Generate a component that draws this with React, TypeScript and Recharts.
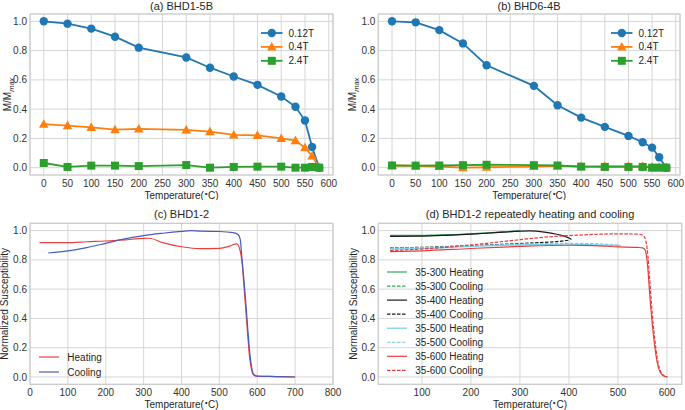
import React from "react";
import { LineChart, Line, XAxis, YAxis, CartesianGrid, ReferenceArea } from "recharts";

const FONT = "'Liberation Sans', Arial, sans-serif";
const GRID = "#d6d6d6";
const SPINE = "#cccccc";
const TEXT = "#262626";
const TICK = { fontSize: 10, fill: "#333333", fontFamily: FONT };

const BLUE = "#1f77b4";
const ORANGE = "#ff7f0e";
const GREEN = "#2ca02c";

// (a), (b) stepwise heating temperatures
const stepTemps = [0, 50, 100, 150, 200, 300, 350, 400, 450, 500, 530, 550, 565, 580];
const stepTicks = [0, 50, 100, 150, 200, 250, 300, 350, 400, 450, 500, 550, 600];
const normTicks = [0, 0.2, 0.4, 0.6, 0.8, 1.0];

const bhd15_012 = [1.0, 0.984, 0.95, 0.895, 0.82, 0.753, 0.683, 0.623, 0.566, 0.486, 0.416, 0.322, 0.141, 0.0];
const bhd15_04 = [0.297, 0.288, 0.276, 0.26, 0.265, 0.258, 0.247, 0.224, 0.221, 0.2, 0.185, 0.137, 0.08, 0.0];
const bhd15_24 = [0.032, 0.005, 0.014, 0.014, 0.011, 0.018, 0.0, 0.005, 0.007, 0.007, 0.0, 0.0, 0.005, 0.0];

const bhd64_012 = [1.0, 0.993, 0.94, 0.849, 0.7, 0.559, 0.427, 0.342, 0.279, 0.217, 0.174, 0.137, 0.071, 0.0];
const bhd64_04 = [0.015, 0.013, 0.008, 0.0, 0.003, 0.008, 0.013, 0.008, 0.01, 0.01, 0.01, 0.005, 0.003, 0.0];
const bhd64_24 = [0.015, 0.014, 0.015, 0.017, 0.02, 0.017, 0.015, 0.007, 0.005, 0.005, 0.005, 0.0, 0.0, 0.0];

// (c) BHD1-2 susceptibility vs temperature
const cTicks = [0, 100, 200, 300, 400, 500, 600, 700, 800];
const heatC_T = [25, 50, 100, 150, 200, 250, 300, 315, 350, 400, 450, 500, 525, 545, 550, 555, 560, 565, 570, 575, 580, 585, 590, 600, 650, 700];
const heatC_V = [0.918, 0.918, 0.918, 0.924, 0.929, 0.937, 0.947, 0.948, 0.918, 0.89, 0.877, 0.879, 0.892, 0.909, 0.9, 0.86, 0.78, 0.62, 0.45, 0.28, 0.13, 0.05, 0.015, 0.005, 0.003, 0.0];
const coolC_T = [48, 100, 150, 200, 250, 300, 350, 400, 425, 450, 500, 536, 550, 555, 560, 565, 570, 575, 580, 585, 590, 595, 600, 650, 700];
const coolC_V = [0.847, 0.861, 0.884, 0.913, 0.943, 0.966, 0.982, 0.995, 1.0, 0.996, 0.994, 0.986, 0.972, 0.94, 0.8, 0.66, 0.5, 0.33, 0.17, 0.07, 0.02, 0.01, 0.006, 0.003, 0.0];

// (d) repeated heating / cooling cycles
const dTicks = [100, 200, 300, 400, 500, 600];
const h300_T = [35, 100, 150, 200, 250, 300];
const h300_V = [0.967, 0.968, 0.972, 0.978, 0.988, 0.998];
const c300_T = [35, 100, 200, 250, 300];
const c300_V = [0.963, 0.966, 0.977, 0.987, 0.997];
const h400_T = [35, 100, 150, 200, 250, 300, 320, 350, 375, 400, 405];
const h400_V = [0.96, 0.962, 0.968, 0.976, 0.986, 0.996, 0.998, 0.99, 0.975, 0.95, 0.94];
const c400_T = [35, 100, 200, 300, 350, 390, 400];
const c400_V = [0.882, 0.886, 0.897, 0.912, 0.92, 0.93, 0.935];
const h500_T = [35, 100, 200, 300, 400, 450, 505];
const h500_V = [0.874, 0.878, 0.892, 0.903, 0.907, 0.903, 0.897];
const c500_T = [35, 100, 200, 300, 400, 450, 505];
const c500_V = [0.88, 0.884, 0.895, 0.908, 0.913, 0.911, 0.9];
const h600_T = [35, 100, 200, 300, 400, 450, 500, 540, 550, 555, 558, 561, 564, 567, 570, 575, 580, 585, 590, 595, 601];
const h600_V = [0.856, 0.862, 0.878, 0.892, 0.9, 0.898, 0.889, 0.885, 0.882, 0.87, 0.83, 0.74, 0.6, 0.47, 0.36, 0.21, 0.1, 0.04, 0.015, 0.005, 0.0];
const c600_T = [35, 100, 200, 300, 350, 400, 450, 500, 540, 550, 555, 558, 561, 564, 567, 570, 575, 580, 585, 590, 595, 601];
const c600_V = [0.864, 0.874, 0.902, 0.938, 0.955, 0.966, 0.974, 0.978, 0.976, 0.97, 0.95, 0.91, 0.83, 0.7, 0.56, 0.43, 0.26, 0.13, 0.055, 0.02, 0.007, 0.0];

const zip = (t: number[], v: number[]) => t.map((x, i) => ({ t: x, v: v[i] }));

const stepRows = (a: number[], b: number[], c: number[]) =>
  stepTemps.map((t, i) => ({ t, s012: a[i], s04: b[i], s24: c[i] }));

const rowsA = stepRows(bhd15_012, bhd15_04, bhd15_24);
const rowsB = stepRows(bhd64_012, bhd64_04, bhd64_24);

type Shape = "circle" | "tri" | "square";

function marker(shape: Shape, cx: number, cy: number, color: string, key?: string) {
  if (shape === "circle") return <circle key={key} cx={cx} cy={cy} r={4.2} fill={color} />;
  if (shape === "tri")
    return <path key={key} d={`M${cx},${cy - 5}L${cx + 4.8},${cy + 3.6}L${cx - 4.8},${cy + 3.6}Z`} fill={color} />;
  return <rect key={key} x={cx - 4} y={cy - 4} width={8} height={8} fill={color} />;
}

const dot = (shape: Shape, color: string) => (p: any) => marker(shape, p.cx, p.cy, color, `${shape}-${p.index}`);

const yLabel = (x: number, main: string, sub?: string) => (props: any) => {
  const vb = props.viewBox || {};
  const y = (vb.y ?? 0) + (vb.height ?? 0) / 2;
  return (
    <text x={x} y={y} transform={`rotate(-90, ${x}, ${y})`} textAnchor="middle" dy="0.35em" fontSize={10} fill={TEXT} fontFamily={FONT}>
      {main}
      {sub && (
        <tspan fontSize={7.5} fontStyle="italic" dy={2.5}>
          {sub}
        </tspan>
      )}
    </text>
  );
};

const xLabel = (x: number, y: number) => () => (
  <text x={x} y={y} textAnchor="middle" dy="0.35em" fontSize={10} fill={TEXT} fontFamily={FONT}>
    Temperature(
    <tspan fontSize={7} dy={-3}>
      ∘
    </tspan>
    <tspan dy={3}>C)</tspan>
  </text>
);

const SERIES_AB: { key: string; label: string; color: string; shape: Shape }[] = [
  { key: "s012", label: "0.12T", color: BLUE, shape: "circle" },
  { key: "s04", label: "0.4T", color: ORANGE, shape: "tri" },
  { key: "s24", label: "2.4T", color: GREEN, shape: "square" },
];

function MarkerLegend({ left, top }: { left: number; top: number }) {
  return (
    <svg style={{ position: "absolute", left, top, overflow: "visible" }} width={70} height={44}>
      {SERIES_AB.map((s, i) => {
        const y = 7 + i * 13.9;
        return (
          <g key={s.key}>
            <line x1={0} x2={21.5} y1={y} y2={y} stroke={s.color} strokeWidth={1.8} />
            {marker(s.shape, 10.8, y, s.color)}
            <text x={27.5} y={y} dy="0.35em" fontSize={10} fill={TEXT} fontFamily={FONT}>
              {s.label}
            </text>
          </g>
        );
      })}
    </svg>
  );
}

type LineItem = { label: string; color: string; dashed?: boolean };

function LineLegend({ left, top, items, gap }: { left: number; top: number; items: LineItem[]; gap: number }) {
  return (
    <svg style={{ position: "absolute", left, top, overflow: "visible" }} width={100} height={items.length * gap}>
      {items.map((it, i) => {
        const y = 7 + i * gap;
        return (
          <g key={it.label}>
            <line x1={0} x2={20} y1={y} y2={y} stroke={it.color} strokeWidth={1.2} strokeDasharray={it.dashed ? "3.5 1.5" : undefined} />
            <text x={28.3} y={y} dy="0.35em" fontSize={10} fill={TEXT} fontFamily={FONT}>
              {it.label}
            </text>
          </g>
        );
      })}
    </svg>
  );
}

function Title({ x, y, text }: { x: number; y: number; text: string }) {
  return (
    <div
      style={{
        position: "absolute",
        left: x,
        top: y,
        transform: "translate(-50%, -50%)",
        fontSize: 11,
        lineHeight: 1,
        whiteSpace: "nowrap",
        color: TEXT,
        fontFamily: FONT,
      }}
    >
      {text}
    </div>
  );
}

function StepChart({ rows, yw, right, labelX }: { rows: any[]; yw: number; right: number; labelX: number }) {
  return (
    <LineChart width={345} height={200} data={rows} margin={{ top: 14, right, left: 0, bottom: 0 }}>
      <CartesianGrid stroke={GRID} strokeWidth={1} />
      <XAxis
        dataKey="t"
        type="number"
        domain={[-29, 609]}
        ticks={stepTicks}
        allowDataOverflow
        height={25}
        axisLine={false}
        tickLine={false}
        tickSize={0}
        tickMargin={5}
        tick={TICK}
        interval={0}
        label={{ content: xLabel(yw + (345 - right - yw) / 2, 195) }}
      />
      <YAxis
        type="number"
        domain={[-0.05, 1.05]}
        ticks={normTicks}
        allowDataOverflow
        width={yw}
        axisLine={false}
        tickLine={false}
        tickSize={0}
        tickMargin={3}
        tick={TICK}
        tickFormatter={(v: number) => v.toFixed(1)}
        label={{ content: yLabel(labelX, "M/M", "max") }}
      />
      <ReferenceArea x1={-29} x2={609} y1={-0.05} y2={1.05} fill="none" stroke={SPINE} strokeWidth={1.2} />
      {SERIES_AB.map((s) => (
        <Line
          key={s.key}
          dataKey={s.key}
          type="linear"
          stroke={s.color}
          strokeWidth={1.8}
          dot={dot(s.shape, s.color)}
          activeDot={false}
          isAnimationActive={false}
        />
      ))}
    </LineChart>
  );
}

function CurveChart({
  lines,
  xDomain,
  ticks,
  yw,
  right,
  labelX,
}: {
  lines: { data: { t: number; v: number }[]; color: string; dashed?: boolean; name: string }[];
  xDomain: [number, number];
  ticks: number[];
  yw: number;
  right: number;
  labelX: number;
}) {
  return (
    <LineChart width={345} height={210} margin={{ top: 23.3, right, left: 0, bottom: 0 }}>
      <CartesianGrid stroke={GRID} strokeWidth={1} />
      <XAxis
        dataKey="t"
        type="number"
        domain={xDomain}
        ticks={ticks}
        allowDataOverflow
        height={25.7}
        axisLine={false}
        tickLine={false}
        tickSize={0}
        tickMargin={5}
        tick={TICK}
        interval={0}
        label={{ content: xLabel(yw + (345 - right - yw) / 2, 204) }}
      />
      <YAxis
        type="number"
        domain={[-0.05, 1.05]}
        ticks={normTicks}
        allowDataOverflow
        width={yw}
        axisLine={false}
        tickLine={false}
        tickSize={0}
        tickMargin={3}
        tick={TICK}
        tickFormatter={(v: number) => v.toFixed(1)}
        label={{ content: yLabel(labelX, "Normalized Susceptibility") }}
      />
      <ReferenceArea x1={xDomain[0]} x2={xDomain[1]} y1={-0.05} y2={1.05} fill="none" stroke={SPINE} strokeWidth={1.2} />
      {lines.map((l) => (
        <Line
          key={l.name}
          data={l.data}
          dataKey="v"
          type="monotone"
          stroke={l.color}
          strokeWidth={1.2}
          strokeDasharray={l.dashed ? "3.5 1.5" : undefined}
          dot={false}
          activeDot={false}
          isAnimationActive={false}
        />
      ))}
    </LineChart>
  );
}

const RED_C = "#e8403f";
const BLUE_C = "#4a5bbf";
const D_GREEN = "#3aa55f";
const D_BLACK = "#1a1a1a";
const D_CYAN = "#6fd0e8";
const D_RED = "#ea3b3b";

const linesC = [
  { name: "Heating", data: zip(heatC_T, heatC_V), color: RED_C },
  { name: "Cooling", data: zip(coolC_T, coolC_V), color: BLUE_C },
];

const linesD = [
  { name: "35-300 Heating", data: zip(h300_T, h300_V), color: D_GREEN },
  { name: "35-300 Cooling", data: zip(c300_T, c300_V), color: D_GREEN, dashed: true },
  { name: "35-400 Heating", data: zip(h400_T, h400_V), color: D_BLACK },
  { name: "35-400 Cooling", data: zip(c400_T, c400_V), color: D_BLACK, dashed: true },
  { name: "35-500 Heating", data: zip(h500_T, h500_V), color: D_CYAN },
  { name: "35-500 Cooling", data: zip(c500_T, c500_V), color: D_CYAN, dashed: true },
  { name: "35-600 Heating", data: zip(h600_T, h600_V), color: D_RED },
  { name: "35-600 Cooling", data: zip(c600_T, c600_V), color: D_RED, dashed: true },
];

export default function App() {
  return (
    <div
      style={{
        position: "absolute",
        left: 0,
        top: 0,
        width: 685,
        height: 410,
        background: "#ffffff",
        fontFamily: FONT,
        overflow: "hidden",
      }}
    >
      <div style={{ position: "absolute", left: 0, top: 0 }}>
        <StepChart rows={rowsA} yw={30} right={12} labelX={7.5} />
      </div>
      <div style={{ position: "absolute", left: 340, top: 0 }}>
        <StepChart rows={rowsB} yw={38.3} right={5} labelX={12.5} />
      </div>
      <div style={{ position: "absolute", left: 0, top: 200 }}>
        <CurveChart lines={linesC} xDomain={[0, 800]} ticks={cTicks} yw={30} right={12} labelX={4.5} />
      </div>
      <div style={{ position: "absolute", left: 340, top: 200 }}>
        <CurveChart lines={linesD} xDomain={[11, 630]} ticks={dTicks} yw={38.3} right={3.3} labelX={13.5} />
      </div>

      <Title x={181.5} y={5.5} text="(a) BHD1-5B" />
      <Title x={529} y={5.5} text="(b) BHD6-4B" />
      <Title x={181.5} y={214} text="(c) BHD1-2" />
      <Title x={530} y={214} text="(d) BHD1-2 repeatedly heating and cooling" />

      <MarkerLegend left={261} top={25.5} />
      <MarkerLegend left={610.7} top={26.3} />
      <LineLegend left={39} top={349.7} gap={15} items={linesC.map((l) => ({ label: l.name, color: l.color }))} />
      <LineLegend
        left={386.7}
        top={265.3}
        gap={14.05}
        items={linesD.map((l) => ({ label: l.name, color: l.color, dashed: l.dashed }))}
      />
    </div>
  );
}
